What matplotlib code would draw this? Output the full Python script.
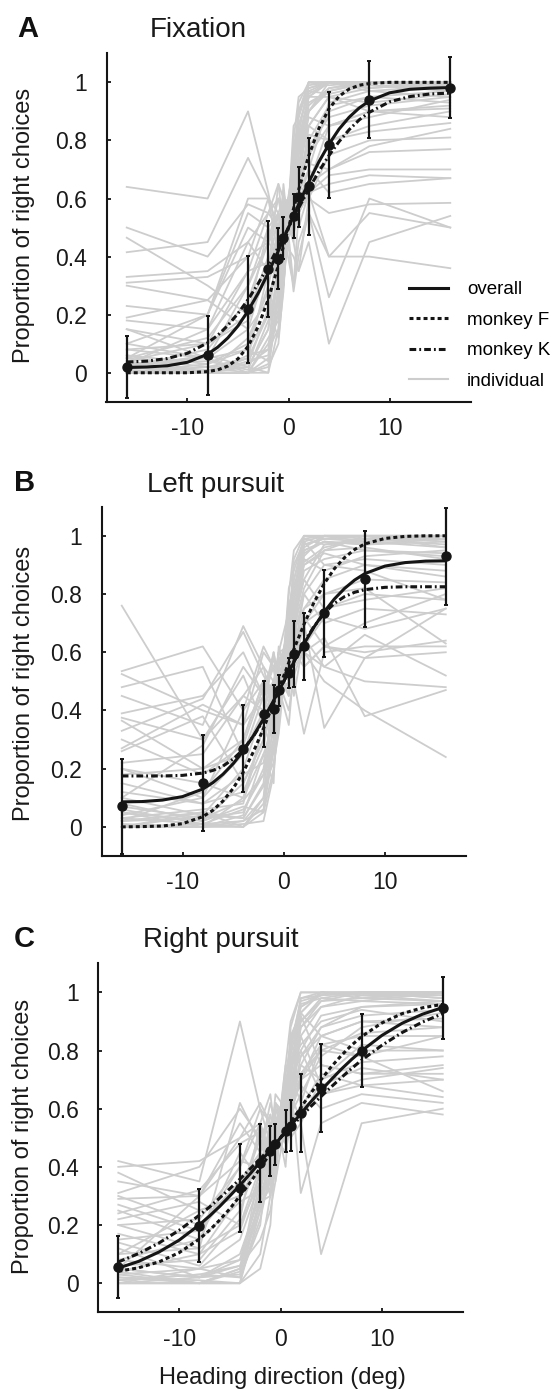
import matplotlib
matplotlib.use('Agg')
import matplotlib.pyplot as plt
from matplotlib.lines import Line2D

plt.rcParams['font.family'] = ['Liberation Sans', 'DejaVu Sans']
plt.rcParams['axes.unicode_minus'] = False

# ---------------- data ----------------
HEADINGS = [-16, -8, -4, -2, -1, -0.5, 0.5, 1, 2, 4, 8, 16]
CURVE_X = [-16, -14, -12, -10, -8, -7, -6, -5, -4, -3, -2, -1, 0,
           1, 2, 3, 4, 5, 6, 7, 8, 10, 12, 14, 16]

X_TICKS = [-10, 0, 10]
X_TICK_LABELS = ['-10', '0', '10']
Y_TICKS = [0, 0.2, 0.4, 0.6, 0.8, 1]
Y_TICK_LABELS = ['0', '0.2', '0.4', '0.6', '0.8', '1']

PANEL_LETTERS = ['A', 'B', 'C']
PANEL_TITLES = ['Fixation', 'Left pursuit', 'Right pursuit']
Y_LABEL = 'Proportion of right choices'
X_LABEL = 'Heading direction (deg)'
LEGEND_LABELS = ['overall', 'monkey F', 'monkey K', 'individual']

# panel A (Fixation)
A_MEAN = [0.019, 0.060, 0.218, 0.357, 0.393, 0.465, 0.539, 0.605, 0.642, 0.785, 0.940, 0.982]
A_ERR = [0.107, 0.135, 0.184, 0.166, 0.105, 0.073, 0.075, 0.103, 0.166, 0.183, 0.133, 0.106]
A_OVERALL = [0.018, 0.020, 0.024, 0.036, 0.064, 0.088, 0.120, 0.161, 0.213, 0.274, 0.344, 0.420, 0.500,
             0.580, 0.656, 0.726, 0.787, 0.839, 0.880, 0.912, 0.936, 0.964, 0.976, 0.980, 0.982]
A_MONKEY_F = [0.000, 0.000, 0.000, 0.000, 0.004, 0.010, 0.023, 0.048, 0.091, 0.159, 0.253, 0.370, 0.500,
              0.630, 0.747, 0.841, 0.909, 0.952, 0.977, 0.990, 0.996, 1.000, 1.000, 1.000, 1.000]
A_MONKEY_K = [0.037, 0.040, 0.049, 0.067, 0.103, 0.129, 0.163, 0.204, 0.252, 0.307, 0.368, 0.433, 0.500,
              0.567, 0.632, 0.693, 0.748, 0.796, 0.837, 0.871, 0.897, 0.933, 0.951, 0.960, 0.963]
A_INDIVIDUAL = [
    [0.00, 0.00, 0.00, 0.05, 0.25, 0.45, 0.65, 0.85, 0.97, 1.00, 1.00, 1.00],
    [0.02, 0.00, 0.02, 0.15, 0.35, 0.40, 0.70, 0.80, 0.95, 1.00, 1.00, 0.98],
    [0.05, 0.02, 0.05, 0.20, 0.30, 0.50, 0.55, 0.75, 0.90, 0.98, 1.00, 1.00],
    [0.00, 0.03, 0.10, 0.30, 0.45, 0.35, 0.60, 0.70, 0.85, 0.95, 0.98, 1.00],
    [0.03, 0.05, 0.00, 0.10, 0.20, 0.30, 0.75, 0.90, 1.00, 1.00, 0.97, 0.95],
    [0.08, 0.05, 0.15, 0.25, 0.40, 0.55, 0.50, 0.65, 0.80, 0.92, 0.95, 0.97],
    [0.00, 0.00, 0.05, 0.35, 0.55, 0.45, 0.60, 0.65, 0.90, 0.97, 1.00, 1.00],
    [0.04, 0.10, 0.20, 0.40, 0.35, 0.50, 0.65, 0.70, 0.75, 0.90, 0.95, 0.93],
    [0.10, 0.05, 0.08, 0.20, 0.45, 0.60, 0.45, 0.80, 0.95, 0.95, 0.93, 0.96],
    [0.00, 0.02, 0.03, 0.08, 0.15, 0.35, 0.80, 0.95, 0.98, 1.00, 1.00, 1.00],
    [0.06, 0.00, 0.12, 0.28, 0.32, 0.38, 0.62, 0.72, 0.88, 0.85, 0.90, 0.92],
    [0.02, 0.08, 0.25, 0.45, 0.50, 0.42, 0.55, 0.60, 0.78, 0.88, 0.92, 0.95],
    [0.05, 0.12, 0.30, 0.50, 0.40, 0.52, 0.70, 0.65, 0.82, 0.80, 0.85, 0.90],
    [0.00, 0.00, 0.00, 0.02, 0.10, 0.30, 0.70, 0.88, 1.00, 1.00, 1.00, 1.00],
    [0.15, 0.10, 0.18, 0.35, 0.48, 0.55, 0.60, 0.68, 0.75, 0.85, 0.88, 0.94],
    [0.03, 0.15, 0.35, 0.55, 0.60, 0.50, 0.58, 0.62, 0.70, 0.93, 0.97, 0.99],
    [0.00, 0.00, 0.00, 0.00, 0.15, 0.35, 0.65, 0.82, 1.00, 1.00, 1.00, 1.00],
    [0.02, 0.00, 0.00, 0.03, 0.22, 0.48, 0.58, 0.90, 0.98, 1.00, 0.98, 1.00],
    [0.00, 0.01, 0.02, 0.00, 0.28, 0.30, 0.75, 0.78, 0.95, 1.00, 1.00, 0.99],
    [0.04, 0.00, 0.04, 0.06, 0.35, 0.52, 0.68, 0.70, 0.92, 0.98, 1.00, 1.00],
    [0.00, 0.02, 0.00, 0.12, 0.18, 0.42, 0.52, 0.93, 1.00, 0.99, 1.00, 1.00],
    [0.01, 0.00, 0.06, 0.08, 0.40, 0.38, 0.78, 0.85, 0.96, 1.00, 0.99, 0.97],
    [0.03, 0.04, 0.01, 0.18, 0.25, 0.58, 0.62, 0.76, 0.93, 0.97, 1.00, 1.00],
    [0.00, 0.00, 0.03, 0.22, 0.12, 0.28, 0.85, 0.88, 0.99, 1.00, 1.00, 1.00],
    [0.06, 0.03, 0.08, 0.04, 0.30, 0.44, 0.57, 0.66, 0.97, 0.96, 0.99, 0.98],
    [0.02, 0.06, 0.02, 0.15, 0.50, 0.62, 0.48, 0.80, 0.90, 1.00, 1.00, 0.99],
    [0.64, 0.60, 0.90, 0.62, 0.45, 0.55, 0.50, 0.60, 0.65, 0.70, 0.78, 0.84],
    [0.50, 0.40, 0.58, 0.55, 0.65, 0.50, 0.48, 0.55, 0.62, 0.68, 0.70, 0.70],
    [0.465, 0.30, 0.20, 0.50, 0.55, 0.45, 0.40, 0.35, 0.60, 0.55, 0.58, 0.585],
    [0.415, 0.45, 0.74, 0.60, 0.55, 0.60, 0.50, 0.55, 0.62, 0.65, 0.68, 0.67],
    [0.33, 0.35, 0.45, 0.55, 0.50, 0.40, 0.55, 0.50, 0.62, 0.40, 0.40, 0.36],
    [0.31, 0.33, 0.40, 0.45, 0.60, 0.55, 0.45, 0.35, 0.45, 0.10, 0.45, 0.54],
    [0.23, 0.20, 0.50, 0.45, 0.40, 0.65, 0.30, 0.45, 0.55, 0.26, 0.60, 0.50],
    [0.19, 0.25, 0.40, 0.60, 0.50, 0.45, 0.70, 0.65, 0.60, 0.75, 0.80, 0.81],
    [0.15, 0.05, 0.30, 0.45, 0.55, 0.40, 0.60, 0.68, 0.72, 0.70, 0.76, 0.77],
    [0.10, 0.20, 0.55, 0.50, 0.35, 0.45, 0.65, 0.75, 0.85, 0.80, 0.83, 0.86],
    [0.08, 0.10, 0.35, 0.38, 0.42, 0.48, 0.30, 0.55, 0.65, 0.85, 0.90, 0.88],
    [0.30, 0.25, 0.15, 0.38, 0.45, 0.58, 0.62, 0.58, 0.70, 0.62, 0.65, 0.67],
    [0.18, 0.15, 0.45, 0.35, 0.65, 0.60, 0.28, 0.40, 0.55, 0.40, 0.55, 0.50],
    [0.05, 0.20, 0.60, 0.60, 0.40, 0.35, 0.70, 0.60, 0.85, 0.95, 0.90, 0.91],
]

# panel B (Left pursuit)
B_MEAN = [0.071, 0.151, 0.269, 0.387, 0.406, 0.469, 0.528, 0.594, 0.620, 0.734, 0.851, 0.929]
B_ERR = [0.163, 0.164, 0.150, 0.113, 0.082, 0.053, 0.052, 0.112, 0.115, 0.150, 0.165, 0.167]
B_OVERALL = [0.086, 0.087, 0.092, 0.104, 0.130, 0.152, 0.181, 0.217, 0.261, 0.313, 0.371, 0.434, 0.500,
             0.566, 0.629, 0.687, 0.739, 0.783, 0.819, 0.848, 0.870, 0.896, 0.908, 0.913, 0.914]
B_MONKEY_F = [0.000, 0.001, 0.003, 0.011, 0.035, 0.057, 0.089, 0.132, 0.188, 0.258, 0.338, 0.426, 0.519,
              0.610, 0.696, 0.772, 0.836, 0.887, 0.925, 0.953, 0.972, 0.991, 0.998, 1.000, 1.000]
B_MONKEY_K = [0.175, 0.175, 0.175, 0.177, 0.185, 0.194, 0.209, 0.233, 0.266, 0.311, 0.367, 0.431, 0.500,
              0.569, 0.634, 0.689, 0.734, 0.768, 0.791, 0.806, 0.815, 0.823, 0.825, 0.825, 0.825]
B_INDIVIDUAL = [
    [0.00, 0.00, 0.02, 0.10, 0.30, 0.45, 0.70, 0.90, 0.98, 1.00, 1.00, 1.00],
    [0.02, 0.03, 0.05, 0.20, 0.40, 0.55, 0.65, 0.80, 0.95, 0.98, 0.97, 0.98],
    [0.05, 0.00, 0.10, 0.25, 0.35, 0.50, 0.60, 0.75, 0.90, 0.95, 1.00, 0.96],
    [0.00, 0.05, 0.03, 0.15, 0.50, 0.40, 0.75, 0.85, 0.97, 0.99, 0.98, 1.00],
    [0.08, 0.02, 0.15, 0.30, 0.45, 0.38, 0.58, 0.70, 0.88, 0.92, 0.95, 0.94],
    [0.03, 0.06, 0.08, 0.35, 0.25, 0.55, 0.68, 0.72, 0.85, 0.97, 0.99, 0.97],
    [0.10, 0.04, 0.20, 0.40, 0.50, 0.60, 0.55, 0.65, 0.80, 0.90, 0.92, 0.90],
    [0.00, 0.00, 0.00, 0.05, 0.20, 0.35, 0.80, 0.95, 1.00, 1.00, 1.00, 1.00],
    [0.12, 0.08, 0.12, 0.28, 0.45, 0.50, 0.62, 0.78, 0.92, 0.88, 0.93, 0.95],
    [0.04, 0.10, 0.25, 0.45, 0.55, 0.42, 0.60, 0.68, 0.82, 0.95, 0.96, 0.92],
    [0.06, 0.01, 0.06, 0.18, 0.30, 0.48, 0.72, 0.82, 0.96, 1.00, 0.98, 0.99],
    [0.02, 0.12, 0.30, 0.50, 0.42, 0.58, 0.50, 0.60, 0.75, 0.85, 0.90, 0.88],
    [0.15, 0.08, 0.18, 0.22, 0.40, 0.45, 0.65, 0.75, 0.90, 0.94, 0.90, 0.86],
    [0.20, 0.15, 0.10, 0.35, 0.50, 0.55, 0.45, 0.70, 0.95, 0.98, 0.95, 0.93],
    [0.00, 0.00, 0.01, 0.02, 0.18, 0.40, 0.62, 0.85, 0.99, 1.00, 1.00, 1.00],
    [0.03, 0.01, 0.00, 0.08, 0.28, 0.50, 0.70, 0.78, 0.97, 0.99, 1.00, 0.98],
    [0.00, 0.04, 0.03, 0.14, 0.22, 0.32, 0.66, 0.92, 1.00, 1.00, 0.99, 1.00],
    [0.05, 0.02, 0.07, 0.05, 0.38, 0.46, 0.58, 0.74, 0.94, 0.98, 0.97, 0.99],
    [0.01, 0.00, 0.04, 0.25, 0.15, 0.60, 0.74, 0.70, 0.93, 1.00, 1.00, 1.00],
    [0.02, 0.05, 0.00, 0.10, 0.45, 0.36, 0.82, 0.88, 0.99, 0.97, 0.98, 0.96],
    [0.07, 0.03, 0.09, 0.18, 0.33, 0.52, 0.52, 0.83, 0.91, 0.96, 0.99, 1.00],
    [0.00, 0.01, 0.02, 0.06, 0.26, 0.42, 0.77, 0.80, 1.00, 0.99, 1.00, 0.99],
    [0.76, 0.30, 0.45, 0.55, 0.50, 0.40, 0.60, 0.55, 0.70, 0.75, 0.80, 0.78],
    [0.535, 0.62, 0.40, 0.50, 0.55, 0.45, 0.50, 0.60, 0.55, 0.62, 0.60, 0.64],
    [0.525, 0.40, 0.35, 0.45, 0.60, 0.50, 0.55, 0.45, 0.65, 0.55, 0.50, 0.48],
    [0.48, 0.55, 0.25, 0.40, 0.45, 0.55, 0.60, 0.50, 0.32, 0.60, 0.62, 0.62],
    [0.45, 0.35, 0.69, 0.55, 0.40, 0.60, 0.55, 0.65, 0.60, 0.50, 0.40, 0.24],
    [0.39, 0.45, 0.60, 0.45, 0.50, 0.52, 0.48, 0.58, 0.70, 0.34, 0.58, 0.60],
    [0.375, 0.30, 0.52, 0.35, 0.48, 0.60, 0.62, 0.55, 0.60, 0.65, 0.38, 0.47],
    [0.365, 0.20, 0.30, 0.50, 0.45, 0.38, 0.58, 0.60, 0.80, 0.70, 0.75, 0.73],
    [0.27, 0.42, 0.35, 0.60, 0.55, 0.50, 0.40, 0.52, 0.62, 0.72, 0.68, 0.75],
    [0.26, 0.38, 0.15, 0.30, 0.42, 0.55, 0.65, 0.60, 0.72, 0.62, 0.70, 0.80],
    [0.22, 0.25, 0.45, 0.40, 0.35, 0.62, 0.50, 0.68, 0.75, 0.80, 0.85, 0.84],
    [0.20, 0.10, 0.40, 0.62, 0.55, 0.45, 0.70, 0.65, 0.60, 0.55, 0.66, 0.52],
    [0.30, 0.18, 0.28, 0.48, 0.38, 0.52, 0.45, 0.62, 0.98, 0.90, 0.88, 0.78],
    [0.10, 0.28, 0.55, 0.45, 0.58, 0.48, 0.35, 0.55, 0.70, 0.80, 0.82, 0.63],
    [0.33, 0.44, 0.67, 0.52, 0.46, 0.58, 0.60, 0.72, 0.55, 0.62, 0.58, 0.75],
    [0.18, 0.20, 0.25, 0.38, 0.60, 0.50, 0.55, 0.70, 0.85, 0.75, 0.78, 0.82],
]

# panel C (Right pursuit)
C_MEAN = [0.055, 0.198, 0.328, 0.413, 0.455, 0.478, 0.524, 0.542, 0.585, 0.671, 0.800, 0.946]
C_ERR = [0.106, 0.126, 0.152, 0.135, 0.087, 0.071, 0.072, 0.089, 0.135, 0.151, 0.125, 0.107]
C_OVERALL = [0.052, 0.075, 0.107, 0.148, 0.201, 0.231, 0.264, 0.300, 0.337, 0.376, 0.417, 0.458, 0.500,
             0.542, 0.583, 0.624, 0.663, 0.700, 0.736, 0.769, 0.799, 0.852, 0.894, 0.925, 0.948]
C_MONKEY_F = [0.041, 0.053, 0.073, 0.105, 0.152, 0.182, 0.217, 0.256, 0.300, 0.346, 0.396, 0.447, 0.500,
              0.553, 0.604, 0.654, 0.700, 0.744, 0.783, 0.818, 0.848, 0.895, 0.927, 0.947, 0.959]
C_MONKEY_K = [0.073, 0.102, 0.138, 0.182, 0.234, 0.262, 0.293, 0.325, 0.358, 0.393, 0.428, 0.464, 0.500,
              0.536, 0.572, 0.608, 0.642, 0.675, 0.707, 0.738, 0.767, 0.818, 0.862, 0.898, 0.927]
C_INDIVIDUAL = [
    [0.00, 0.00, 0.00, 0.10, 0.30, 0.40, 0.65, 0.85, 0.93, 1.00, 1.00, 1.00],
    [0.02, 0.00, 0.05, 0.25, 0.40, 0.55, 0.60, 0.75, 0.90, 0.98, 1.00, 0.98],
    [0.05, 0.02, 0.10, 0.30, 0.35, 0.45, 0.70, 0.65, 0.85, 0.95, 0.97, 1.00],
    [0.00, 0.05, 0.02, 0.20, 0.50, 0.35, 0.55, 0.80, 0.98, 1.00, 0.99, 0.99],
    [0.08, 0.05, 0.15, 0.35, 0.45, 0.60, 0.50, 0.70, 0.80, 0.92, 0.95, 0.96],
    [0.03, 0.00, 0.00, 0.05, 0.20, 0.45, 0.75, 0.90, 1.00, 1.00, 1.00, 1.00],
    [0.10, 0.12, 0.20, 0.40, 0.55, 0.42, 0.60, 0.62, 0.75, 0.88, 0.92, 0.94],
    [0.06, 0.08, 0.25, 0.45, 0.38, 0.50, 0.65, 0.70, 0.78, 0.85, 0.90, 0.91],
    [0.12, 0.02, 0.08, 0.28, 0.42, 0.52, 0.58, 0.72, 0.88, 0.97, 0.98, 0.97],
    [0.04, 0.10, 0.30, 0.50, 0.58, 0.48, 0.45, 0.60, 0.70, 0.80, 0.86, 0.88],
    [0.15, 0.18, 0.35, 0.42, 0.30, 0.55, 0.62, 0.68, 0.72, 0.82, 0.85, 0.85],
    [0.01, 0.03, 0.06, 0.15, 0.25, 0.35, 0.72, 0.82, 0.95, 0.99, 1.00, 1.00],
    [0.17, 0.10, 0.18, 0.38, 0.48, 0.62, 0.52, 0.58, 0.65, 0.78, 0.88, 0.93],
    [0.20, 0.22, 0.40, 0.55, 0.45, 0.40, 0.68, 0.75, 0.82, 0.90, 0.94, 0.90],
    [0.08, 0.15, 0.45, 0.35, 0.52, 0.58, 0.40, 0.65, 0.93, 0.85, 0.80, 0.80],
    [0.00, 0.00, 0.00, 0.25, 0.35, 0.45, 0.62, 0.78, 0.95, 1.00, 1.00, 1.00],
    [0.02, 0.01, 0.00, 0.30, 0.42, 0.38, 0.68, 0.72, 0.98, 0.99, 1.00, 0.99],
    [0.00, 0.02, 0.03, 0.28, 0.30, 0.55, 0.58, 0.84, 0.93, 1.00, 0.98, 1.00],
    [0.04, 0.00, 0.05, 0.35, 0.48, 0.50, 0.70, 0.76, 0.90, 0.97, 1.00, 0.98],
    [0.01, 0.03, 0.02, 0.22, 0.38, 0.60, 0.52, 0.88, 1.00, 1.00, 0.99, 1.00],
    [0.03, 0.05, 0.08, 0.32, 0.55, 0.42, 0.75, 0.70, 0.96, 0.98, 0.97, 0.96],
    [0.00, 0.00, 0.04, 0.40, 0.45, 0.65, 0.60, 0.82, 0.97, 0.99, 1.00, 1.00],
    [0.05, 0.02, 0.06, 0.27, 0.33, 0.48, 0.66, 0.64, 0.88, 0.95, 0.99, 0.97],
    [0.42, 0.35, 0.90, 0.60, 0.55, 0.45, 0.50, 0.65, 0.70, 0.75, 0.72, 0.72],
    [0.40, 0.42, 0.50, 0.55, 0.65, 0.50, 0.45, 0.55, 0.60, 0.65, 0.68, 0.70],
    [0.38, 0.25, 0.30, 0.42, 0.50, 0.62, 0.58, 0.50, 0.55, 0.10, 0.55, 0.60],
    [0.31, 0.40, 0.60, 0.50, 0.40, 0.55, 0.60, 0.70, 0.31, 0.55, 0.62, 0.58],
    [0.29, 0.30, 0.55, 0.45, 0.58, 0.50, 0.65, 0.60, 0.75, 0.70, 0.76, 0.78],
    [0.27, 0.18, 0.40, 0.60, 0.48, 0.55, 0.50, 0.62, 0.68, 0.60, 0.65, 0.62],
    [0.24, 0.32, 0.48, 0.52, 0.45, 0.60, 0.55, 0.70, 0.80, 0.65, 0.70, 0.74],
    [0.22, 0.28, 0.20, 0.35, 0.55, 0.48, 0.62, 0.58, 0.72, 0.80, 0.78, 0.66],
    [0.20, 0.12, 0.62, 0.48, 0.40, 0.45, 0.58, 0.66, 0.55, 0.70, 0.82, 0.80],
    [0.30, 0.20, 0.35, 0.45, 0.62, 0.55, 0.48, 0.60, 0.78, 0.88, 0.95, 0.97],
    [0.10, 0.25, 0.30, 0.52, 0.42, 0.38, 0.70, 0.62, 0.85, 0.68, 0.74, 0.70],
    [0.14, 0.06, 0.22, 0.55, 0.35, 0.62, 0.55, 0.50, 0.92, 0.75, 0.72, 0.75],
    [0.35, 0.30, 0.42, 0.40, 0.50, 0.45, 0.60, 0.72, 0.62, 0.82, 0.78, 0.85],
    [0.05, 0.30, 0.50, 0.62, 0.55, 0.50, 0.58, 0.52, 0.60, 0.72, 0.68, 0.64],
    [0.25, 0.15, 0.28, 0.32, 0.45, 0.55, 0.65, 0.58, 0.70, 0.85, 0.90, 0.88],
]

PANELS = [
    (A_MEAN, A_ERR, A_OVERALL, A_MONKEY_F, A_MONKEY_K, A_INDIVIDUAL),
    (B_MEAN, B_ERR, B_OVERALL, B_MONKEY_F, B_MONKEY_K, B_INDIVIDUAL),
    (C_MEAN, C_ERR, C_OVERALL, C_MONKEY_F, C_MONKEY_K, C_INDIVIDUAL),
]

# ---------------- layout (pixels) ----------------
W, H = 554, 1390
AX_PX = [  # left, right, top, bottom
    (106.5, 470.5, 53.3, 401.8),
    (101.5, 466, 506.7, 856),
    (98, 463, 963.3, 1312.3),
]
LETTER_PX = [(17.0, 37.0), (13.5, 491.0), (13.5, 947.0)]
TITLE_PX = [(150, 37.3), (146.6, 491.7), (143.1, 947.3)]
YLABEL_PX = [(24.5, 225), (23.8, 683.3), (23, 1136.7)]

GRAY = '#cdcdcd'
BLACK = '#151515'
F_DASH = (0, (1.3, 1.0))
K_DASH = (0, (2.2, 1.0, 0.6, 1.0))

fig = plt.figure(figsize=(W / 100, H / 100), dpi=100)

for i, (mean, err, overall, mf, mk, indiv) in enumerate(PANELS):
    l, r, t, b = AX_PX[i]
    ax = fig.add_axes([l / W, 1 - b / H, (r - l) / W, (b - t) / H])
    for line in indiv:
        ax.plot(HEADINGS, line, color=GRAY, lw=1.3, zorder=1)
    ax.plot(CURVE_X, overall, color=BLACK, lw=2.2, zorder=3, solid_capstyle='butt')
    ax.plot(CURVE_X, mf, color=BLACK, lw=2.2, ls=F_DASH, zorder=3)
    ax.plot(CURVE_X, mk, color=BLACK, lw=2.2, ls=K_DASH, zorder=3)
    ax.errorbar(HEADINGS, mean, yerr=err, fmt='o', color=BLACK, ms=6.5,
                elinewidth=1.6, capsize=1.5, capthick=1.4, zorder=5)

    ax.set_xlim(-18, 18)
    ax.set_ylim(-0.1, 1.1)
    ax.set_xticks(X_TICKS)
    ax.set_xticklabels(X_TICK_LABELS)
    ax.set_yticks(Y_TICKS)
    ax.set_yticklabels(Y_TICK_LABELS)
    for s in ['top', 'right']:
        ax.spines[s].set_visible(False)
    for s in ['left', 'bottom']:
        ax.spines[s].set_linewidth(1.5)
        ax.spines[s].set_color(BLACK)
    ax.tick_params(axis='both', direction='in', length=3, width=1.3, colors=BLACK,
                   labelsize=16.5, labelcolor='#1a1a1a')
    ax.tick_params(axis='x', pad=11)
    ax.tick_params(axis='y', pad=14)

    lx, ly = LETTER_PX[i]
    fig.text(lx / W, 1 - ly / H, PANEL_LETTERS[i], fontsize=21, fontweight='bold',
             ha='left', va='baseline', color='#111111')
    tx, ty = TITLE_PX[i]
    fig.text(tx / W, 1 - ty / H, PANEL_TITLES[i], fontsize=20,
             ha='left', va='baseline', color='#1a1a1a')
    yx, yy = YLABEL_PX[i]
    fig.text(yx / W, 1 - yy / H, Y_LABEL, fontsize=17, rotation=90,
             ha='center', va='center', color='#1a1a1a')

    if i == 0:
        handles = [
            Line2D([], [], color=BLACK, lw=2.2),
            Line2D([], [], color=BLACK, lw=2.2, ls=F_DASH),
            Line2D([], [], color=BLACK, lw=2.2, ls=K_DASH),
            Line2D([], [], color=GRAY, lw=1.5),
        ]
        ax.legend(handles, LEGEND_LABELS, loc='upper left',
                  bbox_to_anchor=(409 / W, 1 - 281 / H), bbox_transform=fig.transFigure,
                  frameon=False, fontsize=13.5, handlelength=2.1, handletextpad=1.0,
                  labelspacing=0.72, borderpad=0, borderaxespad=0)

fig.text(282 / W, 1 - 1384 / H, X_LABEL, fontsize=17, ha='center', va='baseline',
         color='#1a1a1a')

fig.savefig('out.png', dpi=100)
